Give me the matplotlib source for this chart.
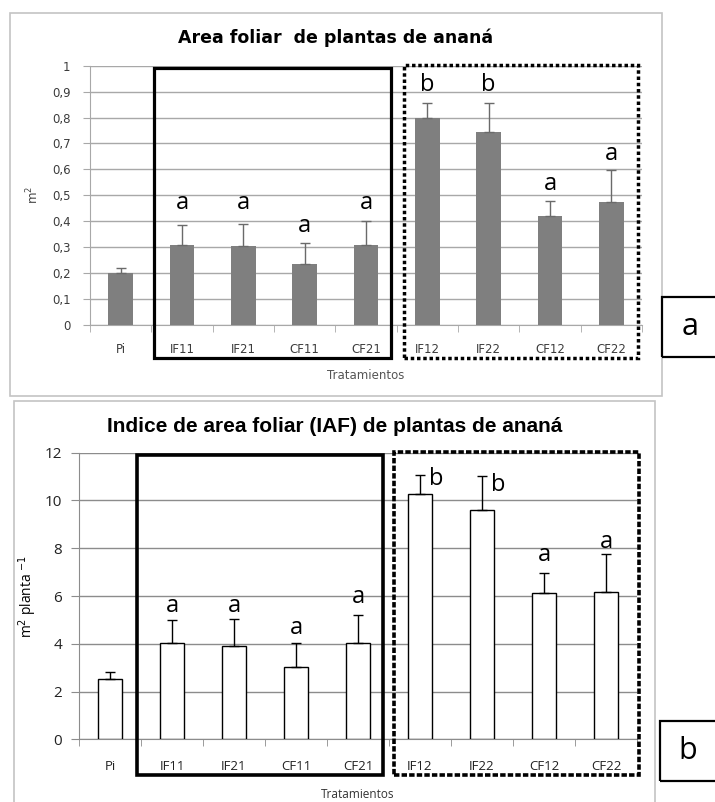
import numpy as np
import matplotlib.pyplot as plt
from matplotlib.patches import Rectangle
from matplotlib.ticker import FuncFormatter

# Datos
tratamientos = ['Pi', 'IF11', 'IF21', 'CF11', 'CF21', 'IF12', 'IF22', 'CF12', 'CF22']

area = [0.20, 0.31, 0.305, 0.235, 0.31, 0.80, 0.745, 0.42, 0.475]
area_err = [0.02, 0.075, 0.085, 0.08, 0.09, 0.056, 0.11, 0.06, 0.122]
area_letras = ['', 'a', 'a', 'a', 'a', 'b', 'b', 'a', 'a']
area_letras_y = [0, 0.47, 0.47, 0.38, 0.47, 0.925, 0.925, 0.545, 0.66]

iaf = [2.51, 4.02, 3.92, 3.04, 4.02, 10.29, 9.61, 6.12, 6.18]
iaf_err = [0.31, 0.98, 1.12, 0.98, 1.17, 0.77, 1.41, 0.83, 1.57]
iaf_letras = ['', 'a', 'a', 'a', 'a', 'b', 'b', 'a', 'a']
iaf_letras_y = [0, 5.6, 5.6, 4.65, 5.95, 10.9, 10.65, 7.7, 8.25]

W, H = 715, 802
fig = plt.figure(figsize=(W/100, H/100), dpi=100)

def caja(x0, y0, x1, y1):  # pixeles -> fraccion de figura
    return [x0/W, 1 - y1/H, (x1 - x0)/W, (y1 - y0)/H]

x = np.arange(len(tratamientos))

# Marcos exteriores
for (x0, y0, x1, y1) in [(10, 13, 662, 396), (14, 401, 655, 810)]:
    b = caja(x0, y0, x1, y1)
    fig.patches.append(Rectangle((b[0], b[1]), b[2], b[3], transform=fig.transFigure,
                                 fill=False, edgecolor='#c4c4c4', lw=1.2))

# ---------------- Panel a ----------------
axa = fig.add_axes(caja(90, 65.7, 642, 325))
axa.bar(x, area, width=0.4, color='#7f7f7f', zorder=3)
axa.errorbar(x, area, yerr=[np.zeros(len(x)), area_err], fmt='none',
             ecolor='#6a6a6a', elinewidth=1, capsize=3.5, capthick=1, zorder=4)
axa.set_xlim(-0.5, 8.5)
axa.set_ylim(0, 1)
axa.set_yticks(np.arange(0, 1.01, 0.1))
axa.yaxis.set_major_formatter(FuncFormatter(lambda v, p: ('%g' % round(v, 1)).replace('.', ',')))
axa.grid(axis='y', color='#a8a8a8', lw=1, zorder=0)
axa.set_xticks(x)
axa.set_xticklabels(tratamientos)
axa.set_xticks(np.arange(-0.5, 9, 1), minor=True)
axa.tick_params(axis='x', which='major', length=0, pad=13, labelsize=8.5, labelcolor='#3c3c3c')
axa.tick_params(axis='x', which='minor', length=5, color='#a8a8a8')
axa.tick_params(axis='y', length=5, color='#a8a8a8', pad=9, labelsize=8.5, labelcolor='#3c3c3c')
for s in ['top', 'right']:
    axa.spines[s].set_visible(False)
for s in ['left', 'bottom']:
    axa.spines[s].set_color('#a8a8a8')
axa.set_ylabel('m$^2$', fontsize=8.5, color='#444444', labelpad=8)
axa.set_xlabel('Tratamientos', fontsize=8.5, color='#555555', labelpad=9)
fig.text(336/W, 1 - 38/H, 'Area foliar  de plantas de ananá', fontsize=12.5,
         fontweight='bold', ha='center', va='center')
for xi, l, ly in zip(x, area_letras, area_letras_y):
    if l:
        axa.text(xi, ly, l, ha='center', va='center', fontsize=17, family='Open Sans')
axa.add_patch(Rectangle((0.545, -0.127), 3.865, 1.118, fill=False, lw=2.3,
                        edgecolor='black', clip_on=False, zorder=5))
axa.add_patch(Rectangle((4.62, -0.127), 3.82, 1.13, fill=False, lw=2.5, ls=(0, (1, 0.8)),
                        edgecolor='black', clip_on=False, zorder=5))

# ---------------- Panel b ----------------
axb = fig.add_axes(caja(79, 452.7, 637, 739.3))
axb.bar(x, iaf, width=0.4, color='white', edgecolor='black', lw=1, zorder=3)
axb.errorbar(x, iaf, yerr=[np.zeros(len(x)), iaf_err], fmt='none',
             ecolor='black', elinewidth=1, capsize=3.5, capthick=1, zorder=4)
axb.set_xlim(-0.5, 8.5)
axb.set_ylim(0, 12)
axb.set_yticks(np.arange(0, 13, 2))
axb.grid(axis='y', color='#8c8c8c', lw=1, zorder=0)
axb.set_xticks(x)
axb.set_xticklabels(tratamientos, family='Open Sans')
axb.set_xticks(np.arange(-0.5, 9, 1), minor=True)
axb.tick_params(axis='x', which='major', length=0, pad=15, labelsize=9.5, labelcolor='#222222')
axb.tick_params(axis='x', which='minor', length=5, color='#8c8c8c')
axb.tick_params(axis='y', length=6, color='#8c8c8c', pad=6, labelsize=11, labelcolor='#222222')
for lab in axb.get_yticklabels():
    lab.set_family('Open Sans')
for s in ['top', 'right']:
    axb.spines[s].set_visible(False)
for s in ['left', 'bottom']:
    axb.spines[s].set_color('#8c8c8c')
axb.set_ylabel('m$^2$ planta $^{-1}$', fontsize=10, family='Open Sans', labelpad=4)
axb.set_xlabel('Tratamientos', fontsize=8.5, family='Open Sans', color='#333333', labelpad=11)
fig.text(334.5/W, 1 - 426/H, 'Indice de area foliar (IAF) de plantas de ananá', fontsize=15,
         fontweight='bold', family='Liberation Sans', ha='center', va='center')
for xi, l, ly in zip(x, iaf_letras, iaf_letras_y):
    if l:
        dx = 0.26 if l == 'b' else 0
        axb.text(xi + dx, ly, l, ha='center', va='center', fontsize=17, family='Open Sans')
axb.add_patch(Rectangle((0.435, -1.49), 3.965, 13.39, fill=False, lw=2.6,
                        edgecolor='black', clip_on=False, zorder=5))
axb.add_patch(Rectangle((4.58, -1.49), 3.95, 13.51, fill=False, lw=2.6, ls=(0, (1.5, 0.6)),
                        edgecolor='black', clip_on=False, zorder=5))

# Etiquetas a / b
for (x0, y0, x1, y1), t in [((662, 297, 720, 357), 'a'), ((660, 721, 720, 781), 'b')]:
    b = caja(x0, y0, x1, y1)
    fig.patches.append(Rectangle((b[0], b[1]), b[2], b[3], transform=fig.transFigure,
                                 fill=False, edgecolor='black', lw=1.6))
    fig.text((x0 + 28)/W, 1 - (y0 + 30)/H, t, ha='center', va='center', fontsize=22,
             family='Open Sans')

fig.savefig('out.png', dpi=100)
